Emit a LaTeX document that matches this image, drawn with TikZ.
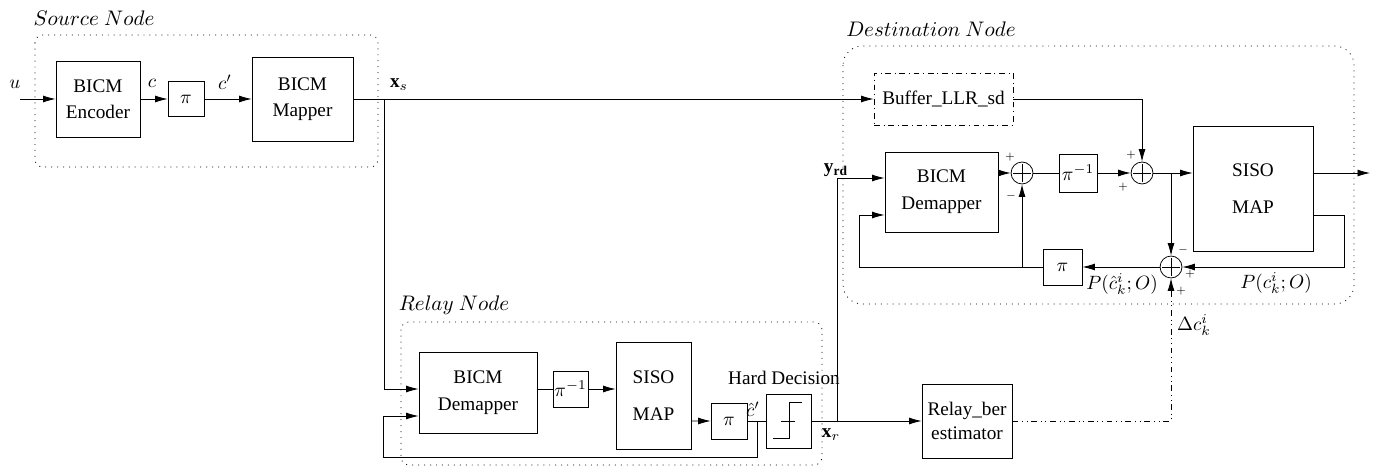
\documentclass[tikz,border=0pt]{standalone}
\usepackage{amsmath,amssymb}
\usepackage{fontspec}
\setmainfont{Liberation Serif}
\usepackage{tikz}
\usetikzlibrary{arrows.meta,positioning,calc}
\tikzstyle{blk} = [draw,inner sep=0pt,align=center]
\tikzstyle{sum} = [draw,circle,inner sep=0pt,minimum size=11.4pt,
  path picture={\draw ([xshift=-4.6pt]path picture bounding box.center) -- ([xshift=4.6pt]path picture bounding box.center);
    \draw ([yshift=-4.6pt]path picture bounding box.center) -- ([yshift=4.6pt]path picture bounding box.center);}]
\tikzstyle{region} = [draw,dash pattern=on 0.5pt off 2.6pt,rounded corners=4pt]
\tikzstyle{reglbl} = [font=\fontsize{11}{13}\selectfont,inner sep=0pt]
\tikzstyle{lbl} = [inner sep=0pt]
\tikzstyle{sgn} = [font=\tiny,inner sep=0pt]

\begin{document}
\begin{tikzpicture}[x=0.52pt,y=-0.52pt,>={Latex[length=6.5pt,width=3.6pt]}]
    \useasboundingbox (0,0) rectangle (1380,468);

    % regions
    \draw [region] (35,35) rectangle (378,167);
    \node [reglbl] (srclbl) at (94,18) {$Source\ Node$};
    \draw [region,rounded corners=10pt] (843,46) rectangle (1354,304);
    \node [reglbl] (dstlbl) at (931,29) {$Destination\ Node$};
    \draw [region] (401,322) rectangle (822,465);
    \node [reglbl] (rlylbl) at (454,305) {$Relay\ Node$};

    % source node
    \node [blk,minimum width=43.7pt,minimum height=39.5pt] (enc) at (98,99) {BICM\\[1.5pt]Encoder};
    \node [blk,minimum width=18.7pt,minimum height=18.2pt] (pis) at (186,99) {$\pi$};
    \node [blk,minimum width=52.5pt,minimum height=43.7pt] (map) at (302.5,99) {BICM\\[1.5pt]Mapper};
    \coordinate (uin) at (20,99);
    \node [lbl] (ulbl) at (15,84) {$u$};
    \draw [->] (uin) -- (enc);
    \draw [->] (enc) -- (pis);
    \node [lbl] (clbl) at (152,83) {$c$};
    \draw [->] (pis) -- (map);
    \node [lbl] (cplbl) at (225,82) {$c'$};
    \coordinate (xs) at (384,99);
    \node [lbl] (xslbl) at (399,85) {$\mathbf{x}_s$};

    % destination node
    \node [blk,dash dot,minimum width=72.3pt,minimum height=27pt] (buf) at (943.5,99) {Buffer\_LLR\_sd};
    \node [blk,minimum width=58.8pt,minimum height=41.6pt] (ddem) at (941.5,192) {BICM\\[2pt]Demapper};
    \node [sum] (sum1) at (1022,173) {};
    \node [blk,minimum width=19.8pt,minimum height=19.8pt] (dpiinv) at (1078,173) {$\pi^{-1}$};
    \node [sum] (sum2) at (1142,173) {};
    \node [blk,minimum width=62.4pt,minimum height=65pt] (dsiso) at (1253,188.5) {SISO\\[7pt]MAP};
    \node [sum] (sum3) at (1171,267) {};
    \node [blk,minimum width=20.3pt,minimum height=18.7pt] (dpi) at (1062.5,267) {$\pi$};

    \draw [->] (map) -- (buf);
    \draw [->] (buf) -| (sum2);
    \draw [->] ($(ddem.east)+(0,-19)$) -- (sum1);
    \draw (sum1) -- (dpiinv);
    \draw [->] (dpiinv) -- (sum2);
    \draw [->] (sum2) -- ($(dsiso.west)+(0,-15.5)$);
    \coordinate (j2) at (1171,173);
    \draw [->] (j2) -- (sum3);
    \coordinate (dout) at (1370,173);
    \draw [->] ($(dsiso.east)+(0,-15.5)$) -- (dout);
    \draw [->] ($(dsiso.east)+(0,26.5)$) -- ++(31,0) |- (sum3);
    \draw [->] (sum3) -- (dpi);
    \coordinate (fbl) at (859,267);
    \draw [->] (dpi) -- (fbl) |- ($(ddem.west)+(0,23)$);
    \coordinate (j1) at (1022,267);
    \draw [->] (j1) -- (sum1);

    \node [sgn] (s1a) at (1010,157) {$+$};
    \node [sgn] (s1b) at (1011,196) {$-$};
    \node [sgn] (s2a) at (1131,155) {$+$};
    \node [sgn] (s2b) at (1123,187) {$+$};
    \node [sgn] (s3a) at (1183,250) {$-$};
    \node [sgn] (s3b) at (1190,274) {$+$};
    \node [sgn] (s3c) at (1181,291) {$+$};
    \node [lbl] (pchat) at (1122,284) {$P(\hat{c}_k^i;O)$};
    \node [lbl] (pc) at (1276,283) {$P(c_k^i;O)$};

    % relay node
    \node [blk,minimum width=61.4pt,minimum height=42pt] (rdem) at (478,392.5) {BICM\\[2pt]Demapper};
    \node [blk,minimum width=18.2pt,minimum height=18.7pt] (rpiinv) at (570.5,389) {$\pi^{-1}$};
    \node [blk,minimum width=39pt,minimum height=55.6pt] (rsiso) at (653.5,395.5) {SISO\\[7pt]MAP};
    \node [blk,minimum width=18.7pt,minimum height=18.7pt] (rpi) at (729,421) {$\pi$};
    \node [blk,minimum width=23.4pt,minimum height=28pt] (hd) at (788.5,421) {};
    \draw ($(hd.center)+(-15.5,17)$) -- ++(16,0) -- ++(0,-36) -- ++(13,0);
    \draw ($(hd.center)+(-7.5,0)$) -- ++(14,0);
    \node [lbl] (hdlbl) at (784,378) {Hard Decision};
    \node [blk,minimum width=46.8pt,minimum height=38.5pt] (rber) at (967,421) {Relay\_ber\\[0.5pt]estimator};

    \draw [->] (xs) |- ($(rdem.west)+(0,-3.5)$);
    \draw ($(rdem.east)+(0,-3.5)$) -- (rpiinv);
    \draw [->] (rpiinv) -- ($(rsiso.west)+(0,-6.5)$);
    \draw [->] ($(rsiso.east)+(0,25.5)$) -- (rpi);
    \draw (rpi) -- (hd);
    \coordinate (chat) at (757,421);
    \node [lbl] (chatlbl) at (753,409) {$\hat{c}'$};
    \draw [->] (chat) |- (383,457) |- ($(rdem.west)+(0,23.5)$);
    \draw [->] (hd) -- (rber);
    \node [lbl] (xrlbl) at (831,435) {$\mathbf{x}_r$};
    \coordinate (yrd) at (837,421);
    \draw [->] (yrd) |- ($(ddem.west)+(0,-14)$);
    \node [lbl] (yrdlbl) at (836,170) {$\mathbf{y}_{\mathbf{rd}}$};
    \draw [->,dash dot dot] (rber) -| (sum3);
    \node [lbl] (dlbl) at (1194,325) {$\Delta c_k^i$};
\end{tikzpicture}
\end{document}
